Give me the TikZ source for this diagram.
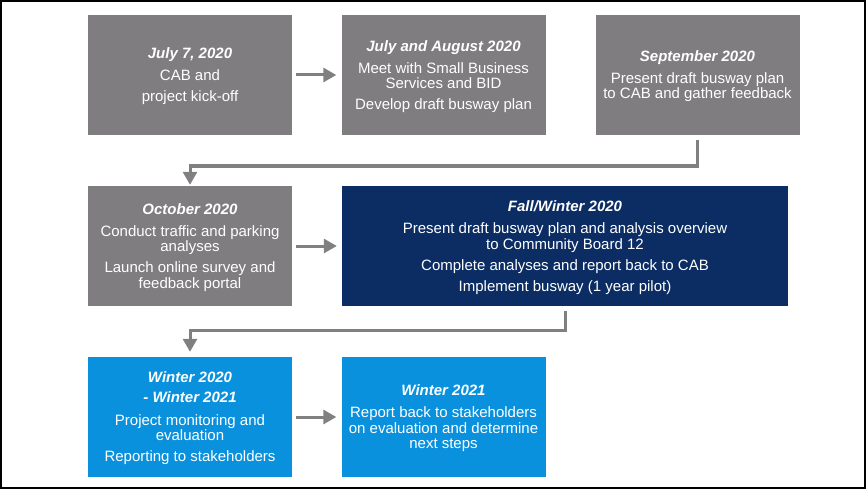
\documentclass[tikz,border=0pt]{standalone}
\usepackage{fontspec}
\setmainfont{Liberation Sans}
\usetikzlibrary{arrows.meta}
\definecolor{boxgray}{RGB}{127,125,128}
\definecolor{boxnavy}{RGB}{11,45,100}
\definecolor{boxblue}{RGB}{9,145,222}
\definecolor{arrgray}{RGB}{128,128,128}
\newcommand\boxttl[1]{\textbf{\textit{#1}}}
\begin{document}
\begin{tikzpicture}[x=1pt,y=-1pt,
  box/.style={draw=none, minimum width=204pt, minimum height=120pt, inner sep=0pt,
    text=white, align=center, font=\fontsize{15}{15.5}\selectfont},
  graybox/.style={box, fill=boxgray},
  navybox/.style={box, fill=boxnavy, minimum width=446pt},
  bluebox/.style={box, fill=boxblue},
  arr/.style={draw=arrgray, line width=3pt, -{Triangle[length=13pt,width=14pt]}},
  txt/.style={text=white, align=center, font=\fontsize{15}{15.5}\selectfont, inner sep=0pt}]
\useasboundingbox (0,0) rectangle (866,489);
\draw[line width=2pt] (1,1) rectangle (865,488);

\node[graybox] (b1) at (190,75) {};
\node[graybox] (b2) at (443.5,75) {};
\node[graybox] (b3) at (697.5,75) {};
\node[graybox] (b4) at (190,246) {};
\node[navybox] (b5) at (565,246) {};
\node[bluebox] (b6) at (190,417) {};
\node[bluebox] (b7) at (443.5,417) {};

\node[txt] (t1) at ([yshift=-1.5pt]b1.center) {\boxttl{July 7, 2020}\\[6.5pt] CAB and\\[5.5pt] project kick-off};
\node[txt] (t2) at ([yshift=-1.5pt]b2.center) {\boxttl{July and August 2020}\\[6.5pt] Meet with Small Business\\ Services and BID\\[5.5pt] Develop draft busway plan};
\node[txt] (t3) at ([yshift=-1.5pt]b3.center) {\boxttl{September 2020}\\[6pt] Present draft busway plan\\ to CAB and gather feedback};
\node[txt] (t4) at ([yshift=-1.5pt]b4.center) {\boxttl{October 2020}\\[6.5pt] Conduct traffic and parking\\ analyses\\[5.5pt] Launch online survey and\\ feedback portal};
\node[txt] (t5) at ([yshift=-1.5pt]b5.center) {\boxttl{Fall/Winter 2020}\\[6.5pt] Present draft busway plan and analysis overview\\ to Community Board 12\\[5.5pt] Complete analyses and report back to CAB\\[5.5pt] Implement busway (1 year pilot)};
\node[txt] (t6) at ([yshift=-1.5pt]b6.center) {\boxttl{Winter 2020}\\[4.5pt] \boxttl{- Winter 2021}\\[7pt] Project monitoring and\\ evaluation\\[5.5pt] Reporting to stakeholders};
\node[txt] (t7) at ([yshift=-1.5pt]b7.center) {\boxttl{Winter 2021}\\[6.5pt] Report back to stakeholders\\ on evaluation and determine\\ next steps};

\draw[arr] ([xshift=4pt]b1.east) -- ([xshift=-5pt]b2.west);
\draw[arr] ([xshift=4pt]b4.east) -- ([xshift=-5pt]b5.west);
\draw[arr] ([xshift=4pt]b6.east) -- ([xshift=-5pt]b7.west);

\coordinate (e1) at (697.5,166);
\draw[arr, line join=miter] ([yshift=-5pt]b3.south) -- (e1) -| ([yshift=1pt]b4.north);
\coordinate (e2) at (565,330);
\draw[arr, line join=miter] ([yshift=-5pt]b5.south) -- (e2) -| ([yshift=5pt]b6.north);
\end{tikzpicture}
\end{document}
